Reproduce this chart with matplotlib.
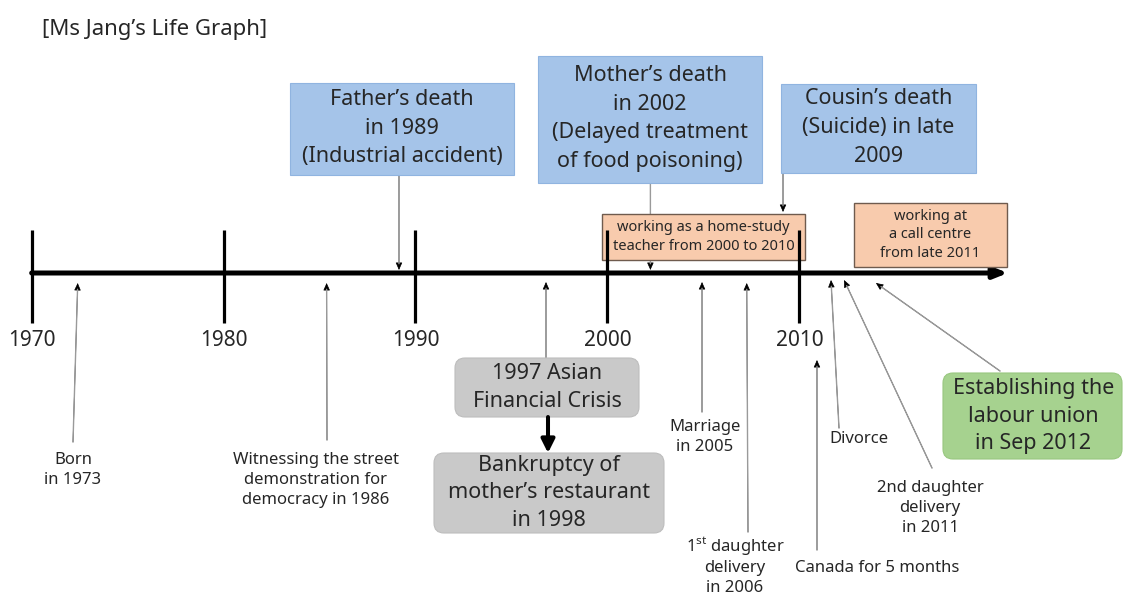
import matplotlib
matplotlib.use("Agg")
import matplotlib.pyplot as plt
from matplotlib.patches import FancyBboxPatch, Rectangle

plt.rcParams['font.family'] = ['Noto Sans', 'DejaVu Sans']
plt.rcParams['mathtext.fontset'] = 'custom'
plt.rcParams['mathtext.rm'] = 'Noto Sans'

# ─── data (years) ───────────────────────────────────────────────────────
TITLE = "[Ms Jang’s Life Graph]"
DECADES = [1970, 1980, 1990, 2000, 2010]
AXIS_END = 2020.87

PLAIN_LABELS = ["Born\nin 1973",
                "Witnessing the street\ndemonstration for\ndemocracy in 1986",
                "Marriage\nin 2005",
                "1$^{\\mathrm{st}}$ daughter\ndelivery\nin 2006",
                "Canada for 5 months",
                "Divorce",
                "2nd daughter\ndelivery\nin 2011"]
PLAIN_YEARS = [1972.40, 1985.37, 2004.93, 2007.26, 2010.92, 2011.65, 2012.33]

DEATH_LABELS = ["Father’s death\nin 1989\n(Industrial accident)",
                "Mother’s death\nin 2002\n(Delayed treatment\nof food poisoning)",
                "Cousin’s death\n(Suicide) in late\n2009"]
DEATH_YEARS = [1989.14, 2002.24, 2009.15]

WORK_LABELS = ["working as a home-study\nteacher from 2000 to 2010",
               "working at\na call centre\nfrom late 2011"]
WORK_START = [1999.70, 2012.85]
WORK_END = [2010.30, 2020.82]

CRISIS_LABELS = ["1997 Asian\nFinancial Crisis",
                 "Bankruptcy of\nmother’s restaurant\nin 1998"]
CRISIS_YEAR = 1996.80

UNION_LABEL = "Establishing the\nlabour union\nin Sep 2012"
UNION_YEAR = 2013.99

# ─── layout (pixels, y from top) ────────────────────────────────────────
W, H = 1125, 597
AXIS_Y = 273
XLIM = (1968.35, 2026.97)
PLAIN_TIP_Y = [283, 283, 282, 283, 360, 280, 280]
PLAIN_FOOT = [(73, 442), (327, 440), (702, 412), (748, 532), (817, 550), (839, 428), (932, 468)]
PLAIN_TEXT = [(73, 468), (316, 478), (705, 435), (735, 566), (877, 566), (859, 437), (930, 506)]
PLAIN_PITCH = 20.5
DEATH_BOX = [(290, 83, 224, 92), (538, 56, 224, 127), (781, 84, 195, 89)]
DEATH_TIP_Y = [270, 270, 212]
WORK_Y = [(214, 260), (203, 267)]
CRISIS_BOX = [(455, 358, 184, 59), (434, 453, 230, 80)]
UNION_BOX = (943, 373, 179, 86)

TXT = "#262626"
GREY = "#9a9a9a"
BLUE, BLUE_EDGE = "#a5c4e9", "#90b4e0"
ORANGE, ORANGE_EDGE = "#f8cbad", "#6f5b4e"
GRAYBOX = "#c9c9c9"
GREEN = "#a6d28f"

fig = plt.figure(figsize=(W / 100, H / 100), dpi=100)
ax = fig.add_axes([0, 0, 1, 1])          # timeline: x in years
ax.set_xlim(*XLIM)
ax.set_ylim(H, 0)
ax.axis("off")
lay = fig.add_axes([0, 0, 1, 1])         # layout: x in pixels
lay.set_xlim(0, W)
lay.set_ylim(H, 0)
lay.axis("off")
lay.patch.set_visible(False)


def pointer(tip, foot, coords):
    ax.annotate("", xy=tip, xytext=foot, textcoords=coords, zorder=2,
                arrowprops=dict(arrowstyle="-|>,head_length=4.5,head_width=2",
                                mutation_scale=1, color="black", lw=0.5,
                                shrinkA=0, shrinkB=0))
    ax.annotate("", xy=tip, xytext=foot, textcoords=coords, zorder=2,
                arrowprops=dict(arrowstyle="-", color=GREY, lw=1.0,
                                shrinkA=0, shrinkB=4.5))


# ─── main axis ──────────────────────────────────────────────────────────
ax.annotate("", xy=(AXIS_END, AXIS_Y), xytext=(DECADES[0], AXIS_Y), zorder=3,
            arrowprops=dict(arrowstyle="-|>,head_length=8,head_width=3.2",
                            mutation_scale=1, lw=3.6, color="black",
                            shrinkA=0, shrinkB=0))
ax.vlines(DECADES, 230, 323, color="black", lw=2.3, zorder=5)
for d in DECADES:
    ax.text(d, 341, str(d), ha="center", va="center", fontsize=15, color=TXT)

# ─── plain labels (one text per line, fixed pitch) ──────────────────────
for lab, yr, ty, foot, (cx, cy) in zip(PLAIN_LABELS, PLAIN_YEARS, PLAIN_TIP_Y, PLAIN_FOOT, PLAIN_TEXT):
    pointer((yr, ty), foot, lay.transData)
    lines = lab.split("\n")
    for i, line in enumerate(lines):
        ly = cy + (i - (len(lines) - 1) / 2) * PLAIN_PITCH
        lay.text(cx, ly + 6, line, ha="center", va="baseline", fontsize=12, color=TXT)

# ─── deaths (blue boxes) ────────────────────────────────────────────────
for lab, yr, (x, y, w, h), ty in zip(DEATH_LABELS, DEATH_YEARS, DEATH_BOX, DEATH_TIP_Y):
    lay.add_patch(Rectangle((x, y), w, h, facecolor=BLUE, edgecolor=BLUE_EDGE, lw=0.8))
    lay.text(x + w / 2, y + h / 2 - 1, lab, ha="center", va="center", fontsize=15.5,
             color=TXT, linespacing=1.47)
    pointer((yr, ty), (yr, y + h), "data")

# ─── work periods (orange boxes on the timeline) ────────────────────────
for lab, x0, x1, (y0, y1) in zip(WORK_LABELS, WORK_START, WORK_END, WORK_Y):
    ax.add_patch(Rectangle((x0, y0), x1 - x0, y1 - y0, facecolor=ORANGE,
                           edgecolor=ORANGE_EDGE, lw=1.0, zorder=4))
    ax.text((x0 + x1) / 2, (y0 + y1) / 2, lab, ha="center", va="center",
            fontsize=10.5, color=TXT, linespacing=1.34, zorder=6)

# ─── crisis → bankruptcy ────────────────────────────────────────────────
for lab, (x, y, w, h) in zip(CRISIS_LABELS, CRISIS_BOX):
    lay.add_patch(FancyBboxPatch((x, y), w, h, boxstyle="round,pad=0,rounding_size=10",
                                 facecolor=GRAYBOX, edgecolor="#bdbdbd", lw=0.8))
    lay.text(x + w / 2, y + h / 2, lab, ha="center", va="center", fontsize=15.5,
             color=TXT, linespacing=1.43)
b1, b2 = CRISIS_BOX
pointer((CRISIS_YEAR, 282), (CRISIS_YEAR, b1[1]), "data")
lay.annotate("", xy=(b1[0] + b1[2] / 2 + 1, b2[1]), xytext=(b1[0] + b1[2] / 2 + 1, b1[1] + b1[3]),
             arrowprops=dict(arrowstyle="-|>,head_length=8,head_width=4",
                             mutation_scale=1, lw=2.9, color="black",
                             shrinkA=0, shrinkB=0))

# ─── labour union ───────────────────────────────────────────────────────
x, y, w, h = UNION_BOX
lay.add_patch(FancyBboxPatch((x, y), w, h, boxstyle="round,pad=0,rounding_size=10",
                             facecolor=GREEN, edgecolor="#98c77f", lw=0.8))
lay.text(x + w / 2 + 1, y + h / 2, UNION_LABEL, ha="center", va="center",
         fontsize=15.5, color=TXT, linespacing=1.41)
pointer((UNION_YEAR, 283), (1000, 371), lay.transData)

lay.text(42, 30, TITLE, ha="left", va="center", fontsize=16, color=TXT)

fig.savefig("out.png", dpi=100)
